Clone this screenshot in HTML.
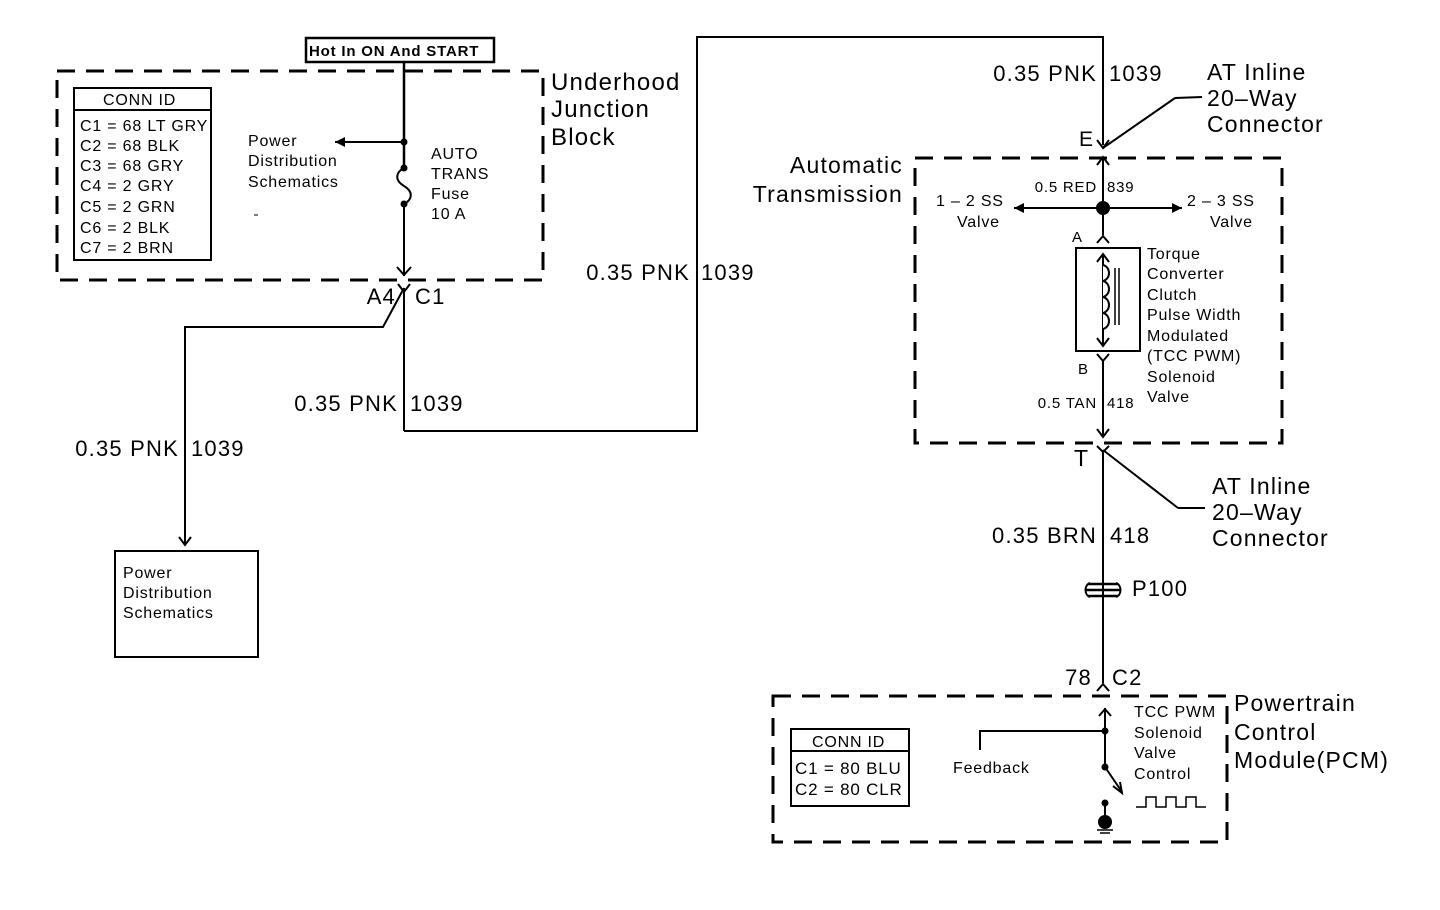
<!DOCTYPE html>
<html><head><meta charset="utf-8"><style>
html,body{margin:0;padding:0;background:#fff;}
svg{display:block;font-family:"Liberation Sans",Arial,sans-serif;}
.b text{letter-spacing:1.2px;}
.s text{letter-spacing:0.8px;}
</style></head><body>
<svg width="1440" height="910" viewBox="0 0 1440 910" xmlns="http://www.w3.org/2000/svg">
<defs>
<marker id="ah" viewBox="0 0 10 10" refX="10" refY="5" markerWidth="10" markerHeight="10" orient="auto-start-reverse" markerUnits="userSpaceOnUse"><path d="M0,0 L10,5 L0,10 z" fill="#000"/></marker>
</defs>
<g fill="none" stroke="#000" stroke-width="2">
<rect x="306" y="38" width="188" height="24" stroke-width="2.5"/>
<rect x="57" y="71" width="486" height="209" stroke-width="3" stroke-dasharray="18,11"/>
<rect x="74" y="88" width="137" height="172"/>
<line x1="74" y1="110" x2="211" y2="110"/>
<line x1="404" y1="62" x2="404" y2="168" stroke-width="2.5"/>
<line x1="404" y1="204" x2="404" y2="276"/>
<polyline points="397,267 404,275 411,267"/>
<line x1="404" y1="142" x2="335" y2="142" marker-end="url(#ah)"/>
<path d="M404,168 C396,172 394,180 404,186 C414,192 412,200 404,204"/>
<line x1="254" y1="215" x2="258" y2="215" stroke-width="1"/>
<polyline points="398,284 404,292 410,284"/>
<line x1="404" y1="288" x2="404" y2="431"/>
<polyline points="404,431 697,431 697,37 1103,37 1103,145"/>
<polyline points="404,288 383,327 185,327 185,544"/>
<polyline points="179,537 185,545 191,537"/>
<rect x="115" y="551" width="143" height="106"/>
<polyline points="1097,140 1103,148 1109,140"/>
<line x1="1103" y1="148" x2="1175" y2="98"/>
<line x1="1175" y1="98" x2="1202" y2="97"/>
<line x1="1103" y1="158" x2="1103" y2="235"/>
<polyline points="1097,165 1103,157 1109,165"/>
<rect x="915" y="158" width="367" height="285" stroke-width="3" stroke-dasharray="18,11"/>
<line x1="1103" y1="208" x2="1014" y2="208" marker-end="url(#ah)"/>
<line x1="1103" y1="208" x2="1182" y2="208" marker-end="url(#ah)"/>
<polyline points="1097,243 1103,236 1109,243"/>
<rect x="1076" y="248" width="64" height="103"/>
<line x1="1103" y1="255" x2="1103" y2="345"/>
<polyline points="1097,262 1103,254 1109,262"/>
<polyline points="1097,338 1103,346 1109,338"/>
<path d="M1103,265 c8,2 8,14 0,16 c8,2 8,14 0,16 c8,2 8,14 0,16 c8,2 8,14 0,16" fill="#fff"/>
<line x1="1115" y1="268" x2="1115" y2="325" stroke-width="1.5"/>
<line x1="1119" y1="268" x2="1119" y2="325" stroke-width="1.5"/>
<polyline points="1097,354 1103,361 1109,354"/>
<line x1="1103" y1="360" x2="1103" y2="436"/>
<polyline points="1097,429 1103,437 1109,429"/>
<polyline points="1097,446 1103,452 1109,446"/>
<line x1="1103" y1="450" x2="1103" y2="683"/>
<line x1="1103" y1="450" x2="1178" y2="508"/>
<line x1="1178" y1="508" x2="1205" y2="508"/>
<path d="M1088,584 h30 M1086,590 h34 M1088,596 h30" stroke-width="2.5"/>
<path d="M1090,583 c-6,2 -6,12 0,14 M1116,583 c6,2 6,12 0,14"/>
<polyline points="1097,691 1103,684 1109,691"/>
<rect x="773" y="696" width="454" height="146" stroke-width="3" stroke-dasharray="18,11"/>
<rect x="791" y="729" width="118" height="77"/>
<line x1="791" y1="751" x2="909" y2="751"/>
<line x1="1105" y1="708" x2="1105" y2="767"/>
<polyline points="1099,716 1105,709 1111,716"/>
<polyline points="980,750 980,731 1105,731"/>
<line x1="1105" y1="767" x2="1122" y2="792"/>
<polyline points="1113,786 1122,793 1120,782"/>
<polyline points="1136,807 1146,807 1146,797 1156,797 1156,807 1166,807 1166,797 1176,797 1176,807 1186,807 1186,797 1196,797 1196,807 1206,807" stroke-width="1.5"/>
<line x1="1105" y1="803" x2="1105" y2="816"/>
<line x1="1097" y1="830" x2="1113" y2="830" stroke-width="1.5"/>
<line x1="1100" y1="833" x2="1110" y2="833" stroke-width="1.5"/>
</g>
<g fill="#000">
<circle cx="404" cy="142" r="3.5"/><circle cx="404" cy="168" r="3.5"/><circle cx="404" cy="204" r="3.5"/>
<circle cx="1103" cy="208" r="7"/>
<circle cx="1105" cy="731" r="3.5"/><circle cx="1105" cy="767" r="3.5"/>
<circle cx="1105" cy="803" r="3.5"/><circle cx="1105" cy="822" r="7"/>
</g>
<g class="s" font-size="16">
<text x="309" y="56" font-weight="bold" font-size="15" letter-spacing="0">Hot In ON And START</text>
<text x="103" y="105">CONN ID</text>
<text x="80" y="131">C1 = 68 LT GRY</text>
<text x="80" y="151">C2 = 68 BLK</text>
<text x="80" y="171">C3 = 68 GRY</text>
<text x="80" y="191">C4 = 2 GRY</text>
<text x="80" y="212">C5 = 2 GRN</text>
<text x="80" y="233">C6 = 2 BLK</text>
<text x="80" y="253">C7 = 2 BRN</text>
<text x="248" y="146">Power</text>
<text x="248" y="166">Distribution</text>
<text x="248" y="187">Schematics</text>
<text x="431" y="159">AUTO</text>
<text x="431" y="179">TRANS</text>
<text x="431" y="199">Fuse</text>
<text x="431" y="219">10 A</text>
<text x="123" y="578">Power</text>
<text x="123" y="598">Distribution</text>
<text x="123" y="618">Schematics</text>
<text x="1097" y="192" text-anchor="end" font-size="15">0.5 RED</text>
<text x="1107" y="192" font-size="15">839</text>
<text x="936" y="206">1 – 2 SS</text>
<text x="957" y="227">Valve</text>
<text x="1187" y="206">2 – 3 SS</text>
<text x="1210" y="227">Valve</text>
<text x="1072" y="242" font-size="15">A</text>
<text x="1078" y="374" font-size="15">B</text>
<text x="1147" y="259">Torque</text>
<text x="1147" y="279">Converter</text>
<text x="1147" y="300">Clutch</text>
<text x="1147" y="320">Pulse Width</text>
<text x="1147" y="341">Modulated</text>
<text x="1147" y="361">(TCC PWM)</text>
<text x="1147" y="382">Solenoid</text>
<text x="1147" y="402">Valve</text>
<text x="1097" y="408" text-anchor="end" font-size="15">0.5 TAN</text>
<text x="1107" y="408" font-size="15">418</text>
<text x="812" y="747">CONN ID</text>
<text x="795" y="774" font-size="17">C1 = 80 BLU</text>
<text x="795" y="795" font-size="17">C2 = 80 CLR</text>
<text x="953" y="773">Feedback</text>
<text x="1134" y="717">TCC PWM</text>
<text x="1134" y="738">Solenoid</text>
<text x="1134" y="758">Valve</text>
<text x="1134" y="779">Control</text>
</g>
<g class="b" font-size="22">
<text x="551" y="90" font-size="24">Underhood</text>
<text x="551" y="117" font-size="24">Junction</text>
<text x="551" y="145" font-size="24">Block</text>
<text x="396" y="304" text-anchor="end" letter-spacing="0">A4</text>
<text x="415" y="304">C1</text>
<text x="398" y="411" text-anchor="end">0.35 PNK</text>
<text x="410" y="411">1039</text>
<text x="179" y="456" text-anchor="end">0.35 PNK</text>
<text x="191" y="456">1039</text>
<text x="690" y="280" text-anchor="end">0.35 PNK</text>
<text x="701" y="280">1039</text>
<text x="1097" y="81" text-anchor="end">0.35 PNK</text>
<text x="1109" y="81">1039</text>
<text x="1207" y="80" font-size="23">AT Inline</text>
<text x="1207" y="106" font-size="23">20–Way</text>
<text x="1207" y="132" font-size="23">Connector</text>
<text x="1079" y="146" font-size="21">E</text>
<text x="903" y="173" text-anchor="end" font-size="23">Automatic</text>
<text x="903" y="202" text-anchor="end" font-size="23">Transmission</text>
<text x="1074" y="466" font-size="23">T</text>
<text x="1212" y="494" font-size="23">AT Inline</text>
<text x="1212" y="520" font-size="23">20–Way</text>
<text x="1212" y="546" font-size="23">Connector</text>
<text x="1097" y="543" text-anchor="end">0.35 BRN</text>
<text x="1110" y="543">418</text>
<text x="1132" y="596">P100</text>
<text x="1092" y="685" text-anchor="end">78</text>
<text x="1112" y="685">C2</text>
<text x="1234" y="711" font-size="23">Powertrain</text>
<text x="1234" y="740" font-size="23">Control</text>
<text x="1234" y="768" font-size="23">Module(PCM)</text>
</g>
</svg>
</body></html>
